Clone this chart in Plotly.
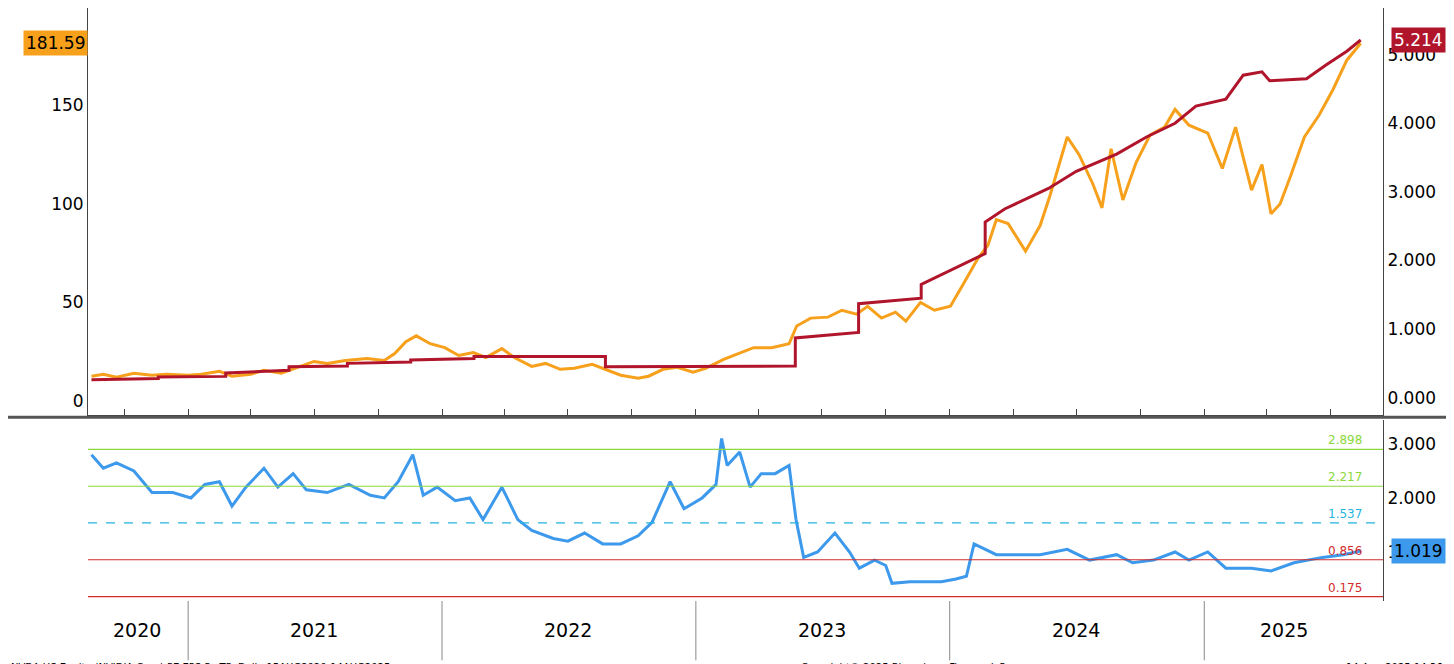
import plotly.graph_objects as go

# price (orange, left axis)
px_dates = ["2020-08-15","2020-09-01","2020-09-20","2020-10-15","2020-11-10","2020-12-01","2021-01-01","2021-01-20",
            "2021-02-15","2021-03-05","2021-04-01","2021-04-20","2021-05-15","2021-06-10","2021-07-01","2021-07-20",
            "2021-08-15","2021-09-15","2021-10-10","2021-10-25","2021-11-10","2021-11-25","2021-12-15","2022-01-05",
            "2022-01-25","2022-02-15","2022-03-05","2022-03-28","2022-04-15","2022-05-10","2022-05-30","2022-06-20",
            "2022-07-10","2022-08-05","2022-08-25","2022-09-15","2022-10-10","2022-10-25","2022-11-15","2022-12-05",
            "2022-12-28","2023-01-15","2023-02-10","2023-03-01","2023-03-25","2023-04-20","2023-05-15","2023-05-26",
            "2023-06-15","2023-07-10","2023-07-30","2023-08-20","2023-09-05","2023-09-25","2023-10-15","2023-10-30",
            "2023-11-20","2023-12-10","2024-01-02","2024-01-20","2024-02-10","2024-02-25","2024-03-08","2024-03-25",
            "2024-04-19","2024-05-10","2024-05-24","2024-06-18","2024-07-05","2024-07-25","2024-08-07","2024-08-20",
            "2024-09-06","2024-09-25","2024-10-15","2024-11-05","2024-11-20","2024-12-10","2025-01-06","2025-01-27",
            "2025-02-15","2025-03-10","2025-03-25","2025-04-07","2025-04-20","2025-05-05","2025-05-25","2025-06-15",
            "2025-07-05","2025-07-25","2025-08-14"]
px_vals = [12.5,13.5,12,14,13,13.5,13,13.5,
           15,12.5,13.5,15.5,14,17.5,20,19,
           20.5,21.5,20.5,24,30,33,29,27,
           23,24.5,22,26.5,22,17.5,19,16,
           16.5,18.5,16,13,11.5,12.5,16,17,
           14.5,16.5,21,23.5,27,27,29,38,
           42,42.5,46,44,48,42,45,40.5,
           50,46,48,59,72,79,92,90,
           76,89,104,134,125,110,98,128,
           102,121,135,139,148,140,136,118,
           139,107,120,95,100,114,134,145,
           158,173,181.59]

# EPS (red, right axis) - repeated dates mark the quarterly steps
eps_dates = ["2020-08-15","2020-11-19","2020-11-19","2021-02-24","2021-02-24","2021-05-26","2021-05-26","2021-08-18",
             "2021-08-18","2021-11-17","2021-11-17","2022-02-16","2022-02-16","2022-08-24","2022-08-24","2023-05-24",
             "2023-05-24","2023-08-23","2023-08-23","2023-11-21","2023-11-21","2024-02-21","2024-02-21","2024-03-20",
             "2024-05-22","2024-07-01","2024-08-28","2024-10-10","2024-11-20","2024-12-20","2025-02-01","2025-02-26",
             "2025-03-25","2025-04-05","2025-05-28","2025-06-25","2025-07-25","2025-08-14"]
eps_vals = [0.26,0.28,0.30,0.31,0.36,0.40,0.45,0.46,
            0.50,0.52,0.55,0.57,0.60,0.60,0.45,0.46,
            0.87,0.95,1.37,1.45,1.65,2.10,2.56,2.75,
            3.05,3.3,3.55,3.8,4.0,4.25,4.35,4.7,
            4.75,4.62,4.65,4.85,5.05,5.214]

# ratio (blue, lower panel)
r_dates = ["2020-08-15","2020-09-01","2020-09-20","2020-10-15","2020-11-10","2020-12-10","2021-01-05","2021-01-25",
           "2021-02-15","2021-03-05","2021-03-25","2021-04-20","2021-05-10","2021-06-01","2021-06-20","2021-07-20",
           "2021-08-20","2021-09-20","2021-10-10","2021-10-30","2021-11-20","2021-12-05","2021-12-25","2022-01-20",
           "2022-02-10","2022-03-01","2022-03-28","2022-04-20","2022-05-10","2022-06-10","2022-07-01","2022-07-25",
           "2022-08-20","2022-09-15","2022-10-10","2022-10-30","2022-11-25","2022-12-15","2023-01-10","2023-01-30",
           "2023-02-07","2023-02-15","2023-03-05","2023-03-20","2023-04-05","2023-04-25","2023-05-15","2023-05-25",
           "2023-06-05","2023-06-25","2023-07-20","2023-08-10","2023-08-24","2023-09-15","2023-10-01","2023-10-10",
           "2023-11-05","2023-12-20","2024-01-10","2024-01-25","2024-02-05","2024-03-08","2024-04-05","2024-05-10",
           "2024-06-18","2024-07-20","2024-08-28","2024-09-20","2024-10-20","2024-11-20","2024-12-10","2025-01-06",
           "2025-02-01","2025-03-10","2025-04-07","2025-05-10","2025-06-20","2025-07-20","2025-08-14"]
r_vals = [2.8,2.55,2.65,2.5,2.1,2.1,2.0,2.25,
          2.3,1.85,2.2,2.55,2.2,2.45,2.15,2.1,
          2.25,2.05,2.0,2.3,2.8,2.05,2.2,1.95,
          2.0,1.6,2.2,1.6,1.4,1.25,1.2,1.35,
          1.15,1.15,1.3,1.55,2.3,1.8,2.0,2.25,
          3.1,2.6,2.85,2.2,2.45,2.45,2.6,1.6,
          0.9,1.0,1.35,1.0,0.7,0.85,0.75,0.42,
          0.45,0.45,0.5,0.55,1.15,0.95,0.95,0.95,
          1.05,0.85,0.95,0.8,0.85,1.0,0.85,1.0,
          0.7,0.7,0.65,0.8,0.9,0.95,1.019]

bands = [2.898, 2.217, 1.537, 0.856, 0.175]
band_colors = ["#8CD83C", "#8CD83C", "#25B4E0", "#D22B2B", "#D22B2B"]
years = ["2020", "2021", "2022", "2023", "2024", "2025"]

ORANGE = "#F7A01C"
RED = "#B0152C"
BLUE = "#3D99EC"
FONT = "DejaVu Sans"

fig = go.Figure()
fig.add_trace(go.Scatter(x=px_dates, y=px_vals, mode="lines", line=dict(color=ORANGE, width=3), yaxis="y"))
fig.add_trace(go.Scatter(x=eps_dates, y=eps_vals, mode="lines", line=dict(color=RED, width=3), yaxis="y2"))
fig.add_trace(go.Scatter(x=r_dates, y=r_vals, mode="lines", line=dict(color=BLUE, width=3), xaxis="x", yaxis="y3"))

# band lines in lower panel
for v, c in zip(bands, band_colors):
    fig.add_shape(type="line", xref="paper", x0=0, x1=1, yref="y3", y0=v, y1=v,
                  line=dict(color=c, width=1.2, dash="dash" if v == 1.537 else "solid"))
    fig.add_annotation(x=0.985, xref="paper", y=v, yref="y3", text=f"{v:.3f}", showarrow=False,
                       xanchor="right", yanchor="bottom", font=dict(family=FONT, size=12, color=c))

# year separators and labels
for i, y in enumerate(years):
    if i > 0:
        fig.add_shape(type="line", xref="x", x0=f"{y}-01-01", x1=f"{y}-01-01", yref="paper", y0=-0.1, y1=0.0,
                      line=dict(color="#888888", width=1))
    fig.add_annotation(x=f"{y}-07-01" if y not in ("2020", "2025") else ("2020-10-20" if y == "2020" else "2025-04-25"),
                       xref="x", y=-0.07, yref="paper", text=y, showarrow=False,
                       font=dict(family=FONT, size=19, color="black"))

# divider between panels
fig.add_shape(type="line", xref="paper", x0=-0.07, x1=1.06, yref="paper", y0=0.31, y1=0.31,
              line=dict(color="#555555", width=3))

# last value tags
fig.add_annotation(x=0, xref="paper", y=181.59, yref="y", text="181.59", showarrow=False, xanchor="right",
                   bgcolor=ORANGE, font=dict(family=FONT, size=17, color="black"), borderpad=2)
fig.add_annotation(x=1, xref="paper", y=5.214, yref="y2", text="5.214", showarrow=False, xanchor="left", xshift=8,
                   bgcolor=RED, font=dict(family=FONT, size=17, color="white"), borderpad=2)
fig.add_annotation(x=1, xref="paper", y=1.019, yref="y3", text="1.019", showarrow=False, xanchor="left", xshift=8,
                   bgcolor=BLUE, font=dict(family=FONT, size=17, color="black"), borderpad=2)

# footer
foot = dict(family=FONT, size=10, color="black")
fig.add_annotation(x=-0.061, xref="paper", y=-0.1, yref="paper", yanchor="top",
                   text="NVDA US Equity (NVIDIA Corp) PE EPS Px TP  Daily 15AUG2020-14AUG2025",
                   showarrow=False, xanchor="left", font=foot)
fig.add_annotation(x=0.63, xref="paper", y=-0.1, yref="paper", yanchor="top",
                   text="Copyright© 2025 Bloomberg Finance L.P.", showarrow=False, xanchor="center", font=foot)
fig.add_annotation(x=1.06, xref="paper", y=-0.1, yref="paper", yanchor="top", text="14-Aug-2025 14:36:52",
                   showarrow=False, xanchor="right", font=foot)

fig.update_layout(
    width=1454, height=664, margin=dict(l=80, r=79, t=0, b=71, autoexpand=False),
    paper_bgcolor="white", plot_bgcolor="white", showlegend=False,
    font=dict(family=FONT, size=17, color="black"),
    xaxis=dict(range=["2020-08-10", "2025-09-15"], showticklabels=False, showgrid=False, zeroline=False,
               showline=True, linecolor="#444444", mirror=False, automargin=False,
               ticks="inside", ticklen=6, dtick="M3", tick0="2020-01-01", tickcolor="#444444"),
    yaxis=dict(domain=[0.314, 1], range=[-7.1, 199.5], tickvals=[0, 50, 100, 150], showgrid=False,
               zeroline=False, showline=True, linecolor="#444444", ticks="", automargin=False),
    yaxis2=dict(overlaying="y", side="right", range=[-0.25, 5.68], tickvals=[0, 1, 2, 3, 4, 5], automargin=False,
                tickformat=".3f", showgrid=False, zeroline=False, showline=True, linecolor="#444444"),
    yaxis3=dict(domain=[0, 0.305], side="right", range=[0.093, 3.44], tickvals=[1, 2, 3], tickformat=".3f",
                showgrid=False, zeroline=False, showline=True, linecolor="#444444", anchor="x", automargin=False),
)

fig.write_html("out.html")
